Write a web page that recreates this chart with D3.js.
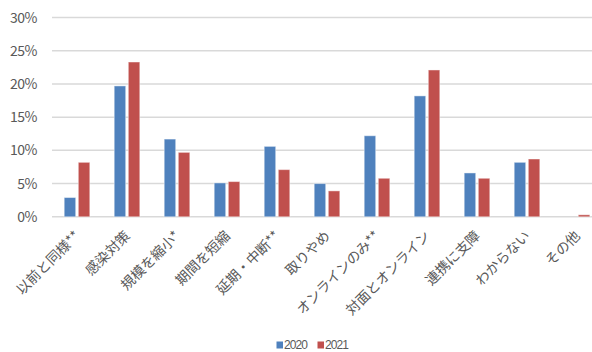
<!DOCTYPE html>
<html>
<head>
<meta charset="utf-8">
<script src="https://cdn.jsdelivr.net/npm/d3@7"></script>
<style>
  html, body { margin: 0; padding: 0; background: #fff; }
  svg { display: block; }
  text { font-family: "Noto Sans CJK JP", "Noto Sans", sans-serif; fill: #595959; }
  .legend text { font-family: "Liberation Sans", Arial, sans-serif; }
</style>
</head>
<body>
<svg id="chart" width="592" height="352"></svg>
<script>
// Survey response categories (x axis)
const categories = [
  "以前と同様**", "感染対策", "規模を縮小*", "期間を短縮", "延期・中断**",
  "取りやめ", "オンラインのみ**", "対面とオンライン", "連携に支障", "わからない", "その他"
];
// Share of responses (%) per year
const values2020 = [2.9, 19.7, 11.7, 5.1, 10.6, 5.0, 12.2, 18.2, 6.6, 8.2, 0];
const values2021 = [8.2, 23.3, 9.7, 5.3, 7.1, 3.9, 5.8, 22.1, 5.8, 8.7, 0.3];
const seriesNames = ["2020", "2021"];
const seriesColors = ["#4F81BD", "#C0504D"];
const yTicks = [0, 5, 10, 15, 20, 25, 30];

const svg = d3.select("#chart");
const plotLeft = 52, plotRight = 602, plotTop = 17.5, plotBottom = 216.8;

const x = d3.scaleBand().domain(categories).range([plotLeft, plotRight]);
const y = d3.scaleLinear().domain([0, 30]).range([plotBottom, plotTop]);

// horizontal gridlines
svg.append("g")
  .selectAll("line")
  .data(yTicks)
  .join("line")
  .attr("x1", plotLeft).attr("x2", plotRight)
  .attr("y1", d => y(d)).attr("y2", d => y(d))
  .attr("stroke", "#d9d9d9")
  .attr("stroke-width", 1.5);

// y axis labels
svg.append("g")
  .selectAll("text")
  .data(yTicks)
  .join("text")
  .attr("x", 37)
  .attr("y", d => y(d))
  .attr("dy", "0.36em")
  .attr("text-anchor", "end")
  .style("font-size", "14px")
  .style("letter-spacing", "-0.5px")
  .text(d => d + "%");

// grouped bars
const barW = 11.5, gap = 2.6;
const series = [values2020, values2021];
series.forEach((vals, si) => {
  svg.append("g")
    .selectAll("rect")
    .data(categories.map((c, i) => ({ c, v: vals[i] })))
    .join("rect")
    .attr("x", d => x(d.c) + x.bandwidth() / 2 + (si === 0 ? -gap / 2 - barW : gap / 2))
    .attr("y", d => y(d.v))
    .attr("width", barW)
    .attr("height", d => y(0) - y(d.v))
    .attr("fill", seriesColors[si])
    .attr("stroke", "rgba(255,255,255,0.45)")
    .attr("stroke-width", 1);
});

// rotated category labels
svg.append("g")
  .selectAll("text")
  .data(categories)
  .join("text")
  .attr("transform", d => `translate(${x(d) + x.bandwidth() / 2 + 0.5},${plotBottom + 16.5}) rotate(-45)`)
  .attr("text-anchor", "end")
  .attr("dy", "0.35em")
  .style("font-size", "14px")
  .text(d => d);

// legend
const legend = svg.append("g").attr("class", "legend").attr("transform", "translate(276.5,345)");
seriesNames.forEach((name, i) => {
  const g = legend.append("g").attr("transform", `translate(${i * 41},0)`);
  g.append("rect").attr("x", 0).attr("y", -3.5).attr("width", 6.5).attr("height", 7).attr("fill", seriesColors[i]);
  g.append("text").attr("x", 7.5).attr("y", 0).attr("dy", "0.35em")
    .style("font-size", "12px").style("letter-spacing", "-0.9px").text(name);
});
</script>
</body>
</html>
